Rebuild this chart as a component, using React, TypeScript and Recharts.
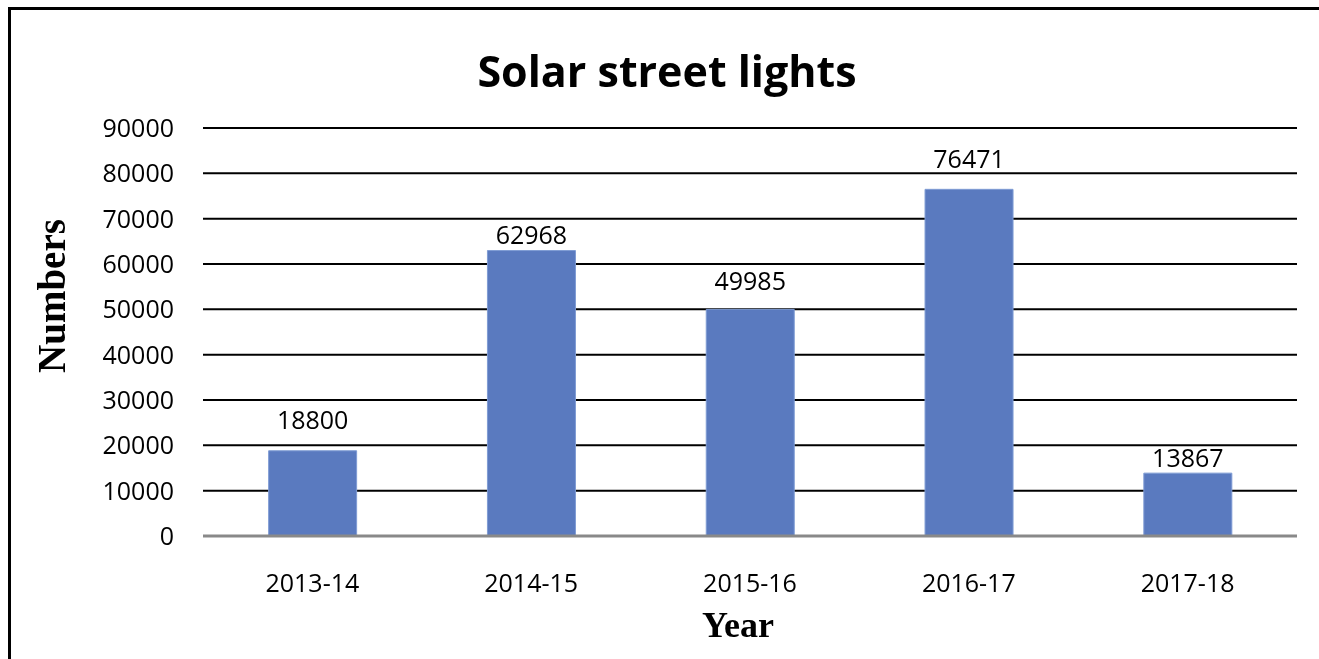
import { BarChart, Bar, CartesianGrid, XAxis, YAxis, LabelList, Label } from "recharts";

const years = ["2013-14", "2014-15", "2015-16", "2016-17", "2017-18"];
const lights = [18800, 62968, 49985, 76471, 13867];
const yTicks = [0, 10000, 20000, 30000, 40000, 50000, 60000, 70000, 80000, 90000];

const data = years.map((year, i) => ({ year, count: lights[i] }));

// gap between bar top and label baseline, as the labels sit in the original
const labelGaps = [22, 7, 19, 21, 6];

const sans = "'Open Sans', sans-serif";
const serif = "'Liberation Serif', serif";

const BarValue = (props: any) => {
  const { x, y, width, value, index } = props;
  return (
    <text
      x={x + width / 2}
      y={y - labelGaps[index]}
      textAnchor="middle"
      fontFamily={sans}
      fontSize={25}
      fill="#000"
    >
      {value}
    </text>
  );
};

export default function App() {
  return (
    <div style={{ position: "relative", width: 1303, height: 643, overflow: "hidden" }}>
      <div
        style={{
          position: "fixed",
          left: 8,
          top: 7,
          right: 0,
          bottom: 0,
          borderLeft: "3px solid #000",
          borderTop: "3px solid #000",
        }}
      />
      <div
        style={{
          position: "absolute",
          left: 359,
          width: 600,
          top: 41,
          textAlign: "center",
          fontFamily: sans,
          fontWeight: 700,
          fontSize: 43,
          lineHeight: "43px",
          color: "#000",
        }}
      >
        Solar street lights
      </div>
      <BarChart
        width={1303}
        height={643}
        data={data}
        margin={{ top: 120, right: 14, bottom: 55, left: 75 }}
        barCategoryGap="30%"
      >
        <CartesianGrid horizontal vertical={false} stroke="#000" strokeWidth={2} />
        <XAxis
          dataKey="year"
          height={60}
          tickSize={0}
          tickMargin={38}
          axisLine={{ stroke: "#898989", strokeWidth: 3 }}
          tick={{ fill: "#000", fontFamily: sans, fontSize: 25 }}
          label={
            <Label
              content={() => (
                <text x={730} y={629} textAnchor="middle" fontFamily={serif} fontWeight={700} fontSize={36} fill="#000">
                  Year
                </text>
              )}
            />
          }
        />
        <YAxis
          width={120}
          domain={[0, 90000]}
          ticks={yTicks}
          interval={0}
          tickSize={0}
          tickMargin={29}
          axisLine={false}
          tick={{ fill: "#000", fontFamily: sans, fontSize: 25 }}
          label={
            <Label
              content={() => (
                <text
                  x={57}
                  y={288}
                  transform="rotate(-90 57 288)"
                  textAnchor="middle"
                  fontFamily={serif}
                  fontWeight={700}
                  fontSize={39}
                  fill="#000"
                >
                  Numbers
                </text>
              )}
            />
          }
        />
        <Bar dataKey="count" fill="#5A7ABF" stroke="#7f9cd4" strokeWidth={1} isAnimationActive={false}>
          <LabelList dataKey="count" content={BarValue} />
        </Bar>
      </BarChart>
    </div>
  );
}
